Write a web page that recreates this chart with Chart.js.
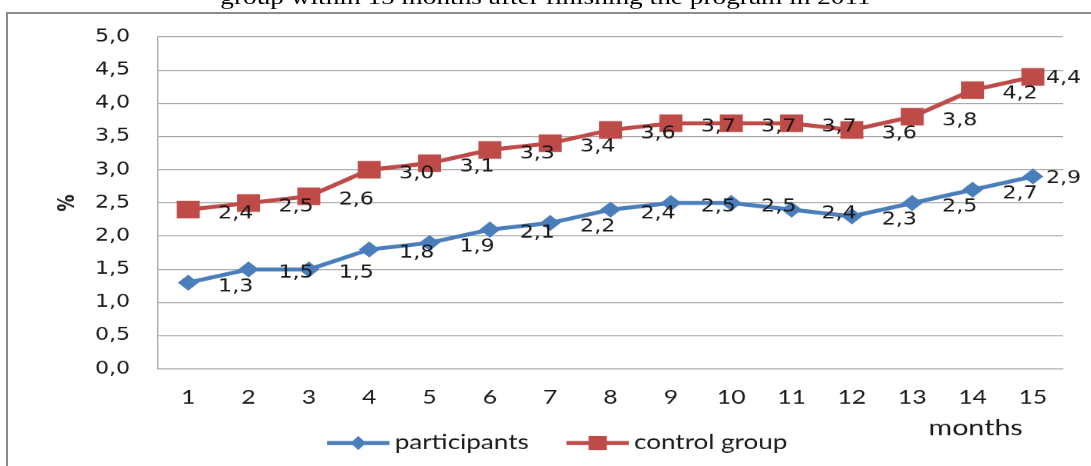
<!DOCTYPE html>
<html>
<head>
<meta charset="utf-8">
<script src="https://cdn.jsdelivr.net/npm/chart.js@4.4.1/dist/chart.umd.min.js"></script>
<style>
  html, body { margin: 0; padding: 0; background: #fff; overflow: hidden; width: 1091px; height: 466px; }
  #frame { position: absolute; left: 6px; top: 12px; width: 1200px; height: 600px; border: 2px solid #8c8c8c; }
  /* the source image is stretched sideways, so the chart is drawn narrow and scaled */
  #wrap { position: absolute; left: 0; top: 0; width: 839px; height: 466px; transform: scaleX(1.30036); transform-origin: 0 0; }
  #title { position: absolute; left: 0; top: -13px; width: 839px; text-align: center; font-family: "Liberation Serif"; font-size: 21px; line-height: 21px; white-space: nowrap; color: #000; }
  #box { position: absolute; left: 0; top: 0; width: 839px; height: 466px; }
</style>
</head>
<body>
<div id="frame"></div>
<div id="wrap">
  <div id="title">group within 15 months after finishing the program in 2011</div>
  <div id="box"><canvas id="myChart"></canvas></div>
</div>
<script>
const months = ['1', '2', '3', '4', '5', '6', '7', '8', '9', '10', '11', '12', '13', '14', '15'];
const participants = [1.3, 1.5, 1.5, 1.8, 1.9, 2.1, 2.2, 2.4, 2.5, 2.5, 2.4, 2.3, 2.5, 2.7, 2.9];
const controlGroup = [2.4, 2.5, 2.6, 3.0, 3.1, 3.3, 3.4, 3.6, 3.7, 3.7, 3.7, 3.6, 3.8, 4.2, 4.4];
const seriesNames = ['participants', 'control group'];
const yTitle = '%';
const xTitle = 'months';

const blue = '#4a7ebb';
const red = '#be4b48';
const gridColor = '#a6a6a6';
const S = 1091 / 839;

let fmt = function(v) {
    return v.toFixed(1).replace('.', ',');
};

// value labels, "months" and the legend
const extras = {
    id: 'extras',
    afterDatasetsDraw(chart) {
        const ctx = chart.ctx;
        ctx.save();
        ctx.font = '17px "DejaVu Sans"';
        ctx.fillStyle = '#1a1a1a';
        ctx.textBaseline = 'middle';
        ctx.textAlign = 'left';
        chart.data.datasets.forEach((ds, i) => {
            chart.getDatasetMeta(i).data.forEach((pt, j) => {
                let last = j === ds.data.length - 1;
                ctx.fillText(fmt(ds.data[j]), pt.x + (last ? 10 : 23), pt.y + (last ? 2 : 4));
            });
        });
        ctx.restore();
    },
    afterDraw(chart) {
        const ctx = chart.ctx;
        const area = chart.chartArea;
        ctx.save();
        ctx.fillStyle = '#1a1a1a';
        ctx.textBaseline = 'middle';

        ctx.font = '22px Lato';
        ctx.textAlign = 'right';
        ctx.fillText(xTitle, area.right - 31, area.bottom + 59);

        // legend
        ctx.font = '20px Lato';
        ctx.textAlign = 'left';
        let lineLen = 48, gap = 4, itemGap = 29;
        let widths = chart.data.datasets.map(ds => ctx.measureText(ds.label).width);
        let total = widths.reduce((a, w) => a + lineLen + gap + w, 0) + itemGap * (widths.length - 1);
        let x = chart.width / 2 + 9 - total / 2;
        let y = area.bottom + 74;
        chart.data.datasets.forEach((ds, i) => {
            ctx.strokeStyle = ds.borderColor;
            ctx.lineWidth = 4;
            ctx.beginPath();
            ctx.moveTo(x, y);
            ctx.lineTo(x + lineLen, y);
            ctx.stroke();
            let cx = x + lineLen / 2;
            ctx.fillStyle = ds.backgroundColor;
            if (ds.pointStyle === 'rect') {
                ctx.fillRect(cx - 7, y - 7, 14, 14);
            } else {
                ctx.beginPath();
                ctx.moveTo(cx, y - 7);
                ctx.lineTo(cx + 6, y);
                ctx.lineTo(cx, y + 7);
                ctx.lineTo(cx - 6, y);
                ctx.closePath();
                ctx.fill();
            }
            ctx.fillStyle = '#1a1a1a';
            ctx.fillText(ds.label, x + lineLen + gap, y);
            x += lineLen + gap + widths[i] + itemGap;
        });
        ctx.restore();
    }
};

let ctx = document.getElementById('myChart').getContext('2d');

let data = {
    labels: months,
    datasets: [{
        label: seriesNames[0],
        data: participants,
        borderColor: blue,
        backgroundColor: blue,
        borderWidth: 4,
        pointStyle: 'rectRot',
        pointRadius: 8,
        pointBorderWidth: 0,
        pointBackgroundColor: blue,
        tension: 0
    }, {
        label: seriesNames[1],
        data: controlGroup,
        borderColor: red,
        backgroundColor: red,
        borderWidth: 4,
        pointStyle: 'rect',
        pointRadius: 12.5,
        pointBorderWidth: 0,
        pointBackgroundColor: red,
        tension: 0
    }]
};

let myChart = new Chart(ctx, {
    type: 'line',
    data: data,
    plugins: [extras],
    options: {
        responsive: true,
        maintainAspectRatio: false,
        devicePixelRatio: S,
        animation: false,
        layout: { padding: { left: 0, right: 21.5, top: 37, bottom: 0 } },
        plugins: {
            legend: { display: false },
            tooltip: { enabled: false }
        },
        scales: {
            x: {
                offset: true,
                grid: { display: false, drawTicks: false },
                border: { display: true, color: gridColor, width: 1 },
                ticks: {
                    color: '#1a1a1a',
                    font: { family: 'Lato', size: 19 },
                    padding: 17,
                    maxRotation: 0,
                    autoSkip: false
                },
                afterFit: function(scale) { scale.height = 97; }
            },
            y: {
                min: 0,
                max: 5,
                grid: { color: gridColor, lineWidth: 1, drawTicks: false },
                border: { display: true, color: gridColor, width: 1 },
                ticks: {
                    stepSize: 0.5,
                    color: '#1a1a1a',
                    font: { family: 'DejaVu Sans', size: 17 },
                    padding: 21.5,
                    callback: function(v) { return fmt(v); }
                },
                title: {
                    display: true,
                    text: yTitle,
                    color: '#1a1a1a',
                    font: { family: 'DejaVu Sans', size: 17, weight: 'bold' },
                    padding: { top: 42, bottom: 0 }
                },
                afterFit: function(scale) { scale.width = 121.5; }
            }
        }
    }
});
</script>
</body>
</html>
